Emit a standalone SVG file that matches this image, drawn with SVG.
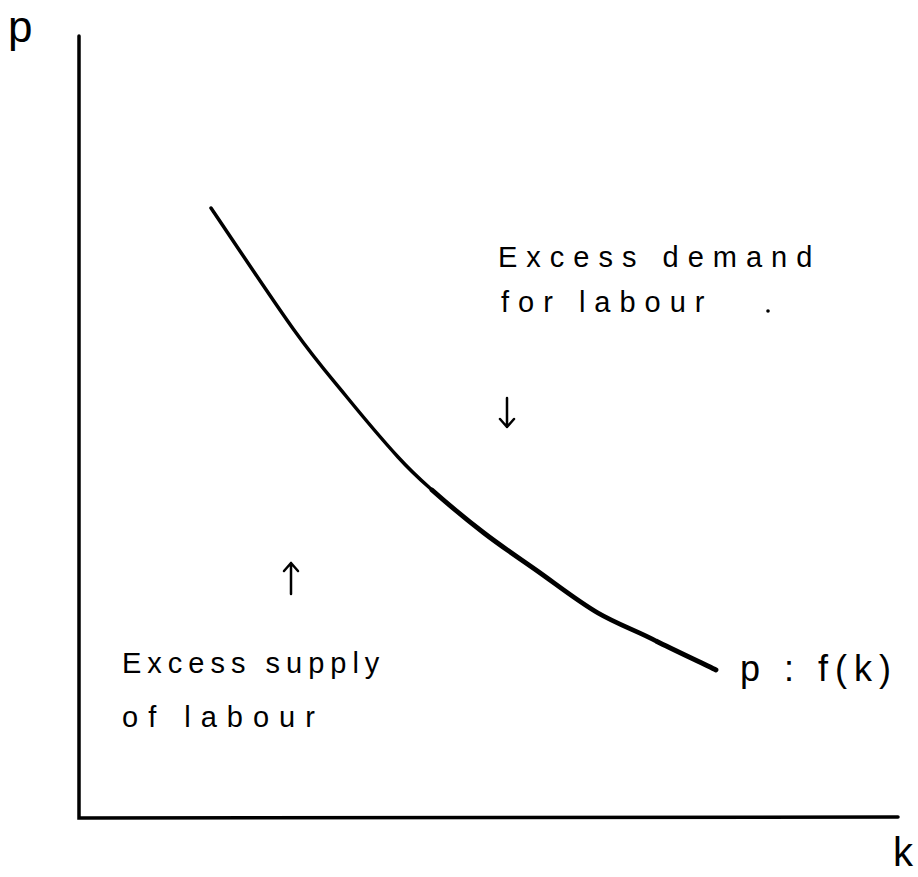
<svg xmlns="http://www.w3.org/2000/svg" width="918" height="877" viewBox="0 0 918 877">
<style>
.ax{stroke:#000;stroke-width:3.5;fill:none;stroke-linecap:round}
.cv{stroke:#000;fill:none;stroke-linecap:round;stroke-linejoin:round}
.ar{stroke:#000;stroke-width:2.5;fill:none;stroke-linecap:round;stroke-linejoin:round}
text{font-family:"Liberation Sans",Arial,sans-serif;fill:#000}
.lb{font-size:29px}
.eq{font-size:36px;letter-spacing:7px}
</style>
<rect width="918" height="877" fill="#fff"/>
<g id="axes">
<path class="ax" d="M79,36 L79,818 L898,817"/>
<text x="8" y="42" style="font-size:44px">p</text>
<text x="893" y="866" style="font-size:40px">k</text>
</g>
<g id="curve">
<path class="cv" stroke-width="3.5" d="M211,208 C224.8,228.3 271.5,298.7 294,330 C316.5,361.3 328.7,374.8 346,396 C363.3,417.2 383.7,441.3 398,457 C412.3,472.7 417.7,477.3 432,490"/>
<path class="cv" stroke-width="4.8" d="M432,490 C446.3,502.7 466.7,519.7 484,533 C501.3,546.3 517,556.7 536,570 C555,583.3 577.8,601.3 598,613 C618.2,624.7 637.3,631 656,641 C676,651 706.2,665 716,670"/>
<text class="eq" x="740" y="681">p : f(k)</text>
</g>
<g id="demand">
<text class="lb" x="498" y="267" letter-spacing="9">Excess demand</text>
<text class="lb" x="501" y="312" letter-spacing="9">for labour</text>
<circle cx="768" cy="311" r="1.8" fill="#000"/>
</g>
<g id="supply">
<text class="lb" x="122" y="673" letter-spacing="6">Excess supply</text>
<text class="lb" x="122" y="727" letter-spacing="10">of labour</text>
</g>
<g id="connectors">
<path class="ar" d="M507,398 L507,427 M500,419 L507,427 L514,419"/>
<path class="ar" d="M291,594 L291,563 M284,571 L291,563 L298,571"/>
</g>
</svg>
